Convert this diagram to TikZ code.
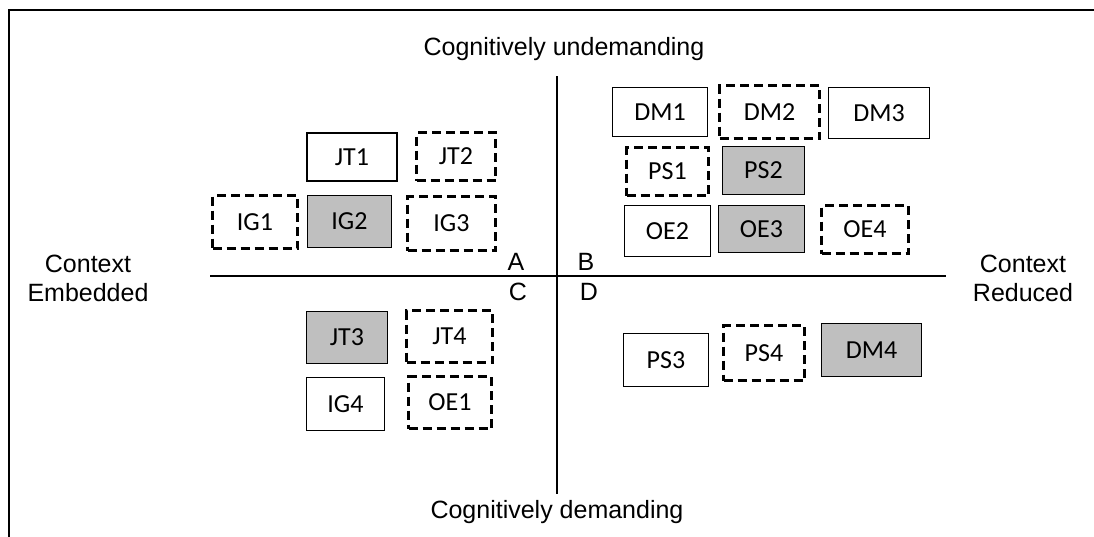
\documentclass[tikz,border=0pt]{standalone}
\usepackage{fontspec}
\setmainfont{Liberation Sans}
\newfontfamily\boxfont{Carlito}
\definecolor{boxgray}{RGB}{191,191,191}
\begin{document}
\begin{tikzpicture}[x=1pt,y=-1pt,
  bx/.style={draw=black, line width=1.4pt, inner sep=0pt,
    font=\boxfont\fontsize{26}{30}\selectfont},
  solidbx/.style={bx},
  dashbx/.style={bx, line width=3pt, dash pattern=on 9pt off 5pt},
  graybx/.style={bx, fill=boxgray},
  lbl/.style={font=\fontsize{25}{29}\selectfont, inner sep=0pt, align=center},
  axis/.style={line width=2pt}]
\useasboundingbox (0,0) rectangle (1094,536);
% frame
\coordinate (fbl) at (9,545);
\coordinate (ftl) at (9,10);
\coordinate (ftr) at (1105,10);
\draw[axis] (fbl) -- (ftl) -- (ftr);
% axes
\coordinate (hl) at (210,276);
\coordinate (hr) at (946,276);
\coordinate (vt) at (556.5,76);
\coordinate (vb) at (556.5,494);
\draw[axis] (hl) -- (hr);
\draw[axis] (vt) -- (vb);
% axis labels
\node[lbl, anchor=base] (cu) at (564,55) {Cognitively undemanding};
\node[lbl, anchor=base] (cd) at (557,518) {Cognitively demanding};
\node[lbl] (ce) at (88,278) {Context\\Embedded};
\node[lbl] (cr) at (1023,278) {Context\\Reduced};
\node[lbl] (qa) at (516,262) {A};
\node[lbl] (qb) at (586,262) {B};
\node[lbl] (qc) at (518,292) {C};
\node[lbl] (qd) at (589,292) {D};
% quadrant A
\node[solidbx, minimum width=90, minimum height=48] (JT1) at (352,157) {JT1};
\node[dashbx, minimum width=79, minimum height=48] (JT2) at (456,156.5) {JT2};
\node[dashbx, minimum width=85, minimum height=53] (IG1) at (255,222) {IG1};
\node[graybx, minimum width=84, minimum height=52] (IG2) at (349.5,221.5) {IG2};
\node[dashbx, minimum width=88, minimum height=54] (IG3) at (451.5,223.5) {IG3};
% quadrant B
\node[solidbx, minimum width=95, minimum height=49] (DM1) at (660,112) {DM1};
\node[dashbx, minimum width=100, minimum height=53] (DM2) at (769.5,112) {DM2};
\node[solidbx, minimum width=101, minimum height=51] (DM3) at (879,113) {DM3};
\node[dashbx, minimum width=82, minimum height=48] (PS1) at (667.5,171.5) {PS1};
\node[graybx, minimum width=82, minimum height=48] (PS2) at (763.5,170.5) {PS2};
\node[solidbx, minimum width=86, minimum height=51] (OE2) at (667.5,231) {OE2};
\node[graybx, minimum width=86, minimum height=47] (OE3) at (761.5,229) {OE3};
\node[dashbx, minimum width=87, minimum height=48] (OE4) at (865,229.5) {OE4};
% quadrant C
\node[graybx, minimum width=81, minimum height=52] (JT3) at (347,337.5) {JT3};
\node[dashbx, minimum width=86, minimum height=52] (JT4) at (449.5,336.5) {JT4};
\node[solidbx, minimum width=78, minimum height=53] (IG4) at (345.5,404) {IG4};
\node[dashbx, minimum width=83, minimum height=52] (OE1) at (450,402.5) {OE1};
% quadrant D
\node[solidbx, minimum width=85, minimum height=53] (PS3) at (666,360) {PS3};
\node[dashbx, minimum width=81, minimum height=55] (PS4) at (764,353) {PS4};
\node[graybx, minimum width=100, minimum height=53] (DM4) at (871.5,350) {DM4};
\end{tikzpicture}
\end{document}
